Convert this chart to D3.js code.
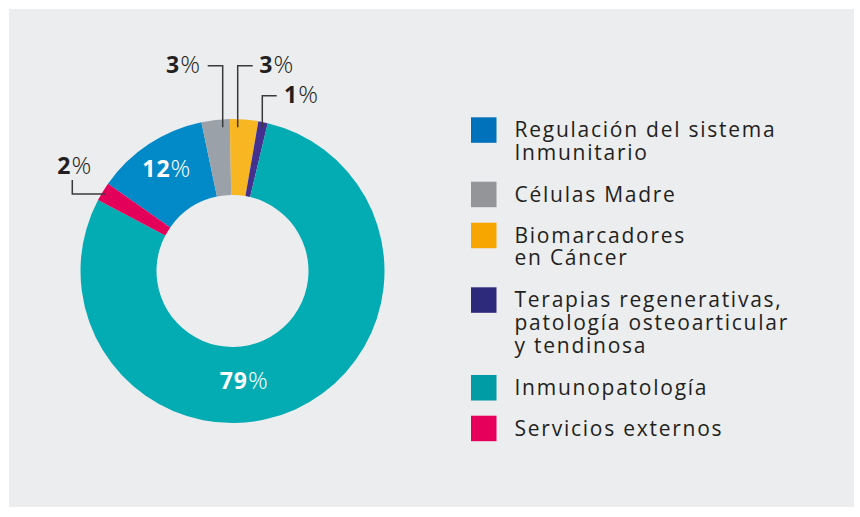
<!DOCTYPE html>
<html>
<head>
<meta charset="utf-8">
<script src="https://cdn.jsdelivr.net/npm/d3@7"></script>
<style>
  html, body { margin: 0; padding: 0; background: #ffffff; }
  svg { display: block; }
  text { font-family: "Open Sans", Lato, sans-serif; }
</style>
</head>
<body>
<svg id="chart" width="860" height="517"></svg>
<script>
// Project areas and their share of the total (%)
const categories = [
  ["Regulación del sistema", "Inmunitario"],
  ["Células Madre"],
  ["Biomarcadores", "en Cáncer"],
  ["Terapias regenerativas,", "patología osteoarticular", "y tendinosa"],
  ["Inmunopatología"],
  ["Servicios externos"]
];
const shares = [12, 3, 3, 1, 79, 2];
const sliceColors  = ["#0289c8", "#9aa1a9", "#f8b622", "#44318f", "#03abb3", "#e3005a"];
const legendColors = ["#0072bc", "#939598", "#f7a600", "#2e2a7b", "#009ca6", "#e6005c"];

const svg = d3.select("#chart");

// panel
svg.append("rect")
  .attr("x", 9).attr("y", 9).attr("width", 845).attr("height", 498)
  .attr("fill", "#ecedef");

const cx = 232.5, cy = 271, rOuter = 152, rInner = 76;
const g = svg.append("g").attr("transform", `translate(${cx},${cy})`);

const toRad = d => d * Math.PI / 180;
const pie = d3.pie().sort(null).value(d => d)
  .startAngle(toRad(-55)).endAngle(toRad(305));
const arcs = pie(shares);
const arc = d3.arc().innerRadius(rInner).outerRadius(rOuter);

g.selectAll("path.slice")
  .data(arcs)
  .join("path")
  .attr("class", "slice")
  .attr("d", arc)
  .attr("fill", (d, i) => sliceColors[i]);

// value labels (x, y relative to the chart centre)
const labelLayout = [
  { i: 0, x: -66.2, y: -94.3, anchor: "middle", fill: "#ffffff" },
  { i: 1, x: -66.5, y: -197.7, anchor: "start", fill: "#231f20" },
  { i: 2, x: 26.8,  y: -197.7, anchor: "start", fill: "#231f20" },
  { i: 3, x: 51.5,  y: -167.7, anchor: "start", fill: "#231f20" },
  { i: 4, x: 11.2,  y: 118.3,  anchor: "middle", fill: "#ffffff" },
  { i: 5, x: -175.2, y: -96.7, anchor: "start", fill: "#231f20" }
];

labelLayout.forEach(l => {
  const t = g.append("text")
    .attr("x", l.x).attr("y", l.y)
    .attr("text-anchor", l.anchor)
    .attr("fill", l.fill);
  t.append("tspan").attr("font-size", 23).attr("font-weight", 700)
    .attr("letter-spacing", 1).text(shares[l.i]);
  t.append("tspan").attr("font-size", 24.5).attr("font-weight", 300).text("%");
});

// leader lines for the small slices
const leaders = [
  [[-24.8, -205.3], [-9.8, -205.3], [-9.8, -143.7]],
  [[20.2, -205.3], [5.2, -205.3], [5.2, -143.7]],
  [[44.2, -175.3], [29.8, -175.3], [29.8, -143.7]],
  [[-160.2, -91], [-160.2, -77], [-127.5, -77]]
];
g.selectAll("path.leader")
  .data(leaders)
  .join("path")
  .attr("class", "leader")
  .attr("d", d3.line())
  .attr("fill", "none")
  .attr("stroke", "#3a3a3a")
  .attr("stroke-width", 1.5);

// legend
const legendX = 471, lineH = 22.7;
const legendTop = [137.3, 201.7, 242.7, 307.3, 395, 435.7];   // first baseline of each entry
const legend = svg.append("g");
categories.forEach((lines, i) => {
  const base = legendTop[i];
  legend.append("rect")
    .attr("x", legendX).attr("y", base - 20)
    .attr("width", 25.5).attr("height", 25.5)
    .attr("fill", legendColors[i]);
  const t = legend.append("text")
    .attr("x", legendX + 43.5).attr("y", base)
    .attr("fill", "#231f20")
    .attr("font-size", 21)
    .attr("letter-spacing", 1.75);
  lines.forEach((ln, k) => {
    t.append("tspan")
      .attr("x", legendX + 43.5)
      .attr("dy", k === 0 ? 0 : lineH)
      .text(ln);
  });
});
</script>
</body>
</html>
